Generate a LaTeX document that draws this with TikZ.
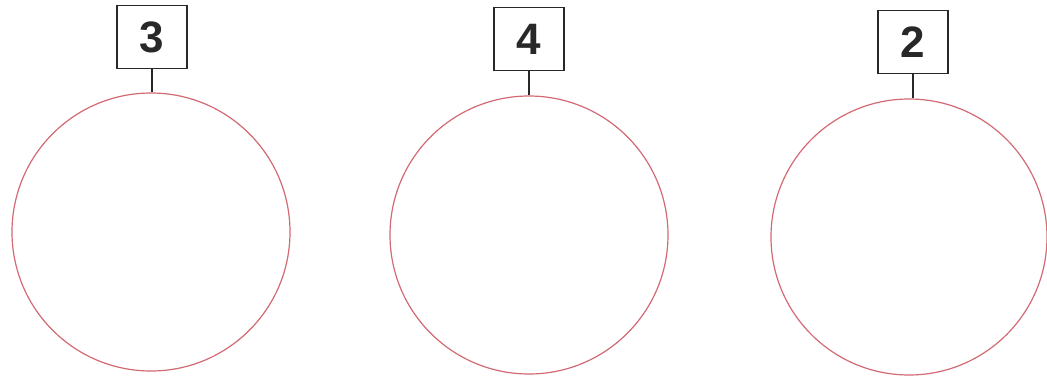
\documentclass[tikz,border=0pt]{standalone}
\usepackage{fontspec}
\setmainfont{Liberation Sans}
\definecolor{ring}{RGB}{210,105,115}
\definecolor{ink}{RGB}{40,40,40}
\tikzset{
  ringc/.style={draw=ring, line width=1.2pt, circle, minimum size=278pt, inner sep=0pt},
  numbox/.style={draw=ink, line width=1.5pt, minimum width=70pt, minimum height=63pt, inner sep=0pt, font=\fontsize{44}{44}\selectfont\bfseries, text=ink},
  stem/.style={draw=ink, line width=1.1pt}
}
\begin{document}
\begin{tikzpicture}[x=1pt,y=-1pt]
\useasboundingbox (0,0) rectangle (1047,381);
\node[ringc] (c1) at (151,232) {};
\node[ringc] (c2) at (529,235) {};
\node[ringc, minimum size=276pt] (c3) at (909,237) {};
\node[numbox] (b1) at (152,37) {3};
\node[numbox] (b2) at (529,39) {4};
\node[numbox] (b3) at (913,42) {2};
\draw[stem] (b1.south) -- (c1.north -| b1.south);
\draw[stem] (b2.south) -- (c2.north -| b2.south);
\draw[stem] (b3.south) -- (c3.north -| b3.south);
\end{tikzpicture}
\end{document}
